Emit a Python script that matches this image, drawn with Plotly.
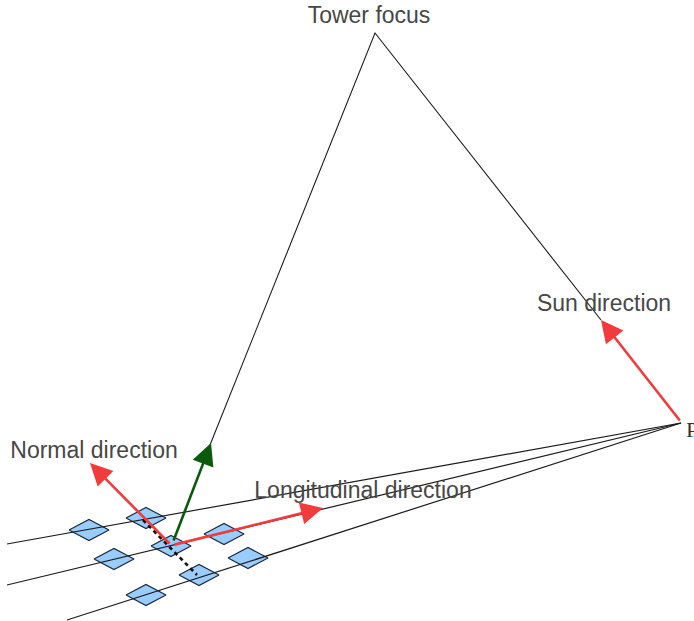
##### Heliostat field geometry sketch #####
import plotly.graph_objs as go

#############################################
########## 1. Data
#############################################
# Everything is read off the picture, in picture pixels
mirror_x = [89, 146, 171, 224, 114, 199, 248, 146]
mirror_y = [530, 518, 546, 534, 559, 575, 558, 595]

sun_point = [681, 423]

row_x = [7, 7, 67]
row_y = [544, 585, 620]

tower_x = [210, 375, 601]
tower_y = [445, 33, 320]

dotted_x = [143, 197]
dotted_y = [520, 575]

arrow_names = ['Normal', 'Receiver', 'Longitudinal', 'Sun']
arrow_start_x = [171, 173, 173, 681]
arrow_start_y = [545, 542, 545, 422]
arrow_end_x = [90, 211, 323, 601]
arrow_end_y = [463, 443, 508, 320]
arrow_colors = ['#f33b3b', '#0b5a0b', '#f33b3b', '#f33b3b']

label_texts = ['Tower focus', 'Sun direction', 'Normal direction', 'Longitudinal direction']
label_x = [369, 604, 94, 363]
label_y = [17, 305, 452, 492]

#############################################
########## 2. Plot
#############################################
data = []

# Mirrors
half_w, half_h = 20, 10.5
for x, y in zip(mirror_x, mirror_y):
	data.append(go.Scatter(
		x=[x-half_w, x, x+half_w, x, x-half_w],
		y=[y, y-half_h, y, y+half_h, y],
		mode='lines', fill='toself', fillcolor='#99ccff',
		line=dict(color='#1a2a3a', width=1.2), hoverinfo='none'
	))

# Rows of mirrors, all starting at the sun point
for x, y in zip(row_x, row_y):
	data.append(go.Scatter(
		x=[x, sun_point[0]], y=[y, sun_point[1]],
		mode='lines', line=dict(color='#1c1c1c', width=1.2), hoverinfo='none'
	))

# Tower lines
data.append(go.Scatter(x=tower_x, y=tower_y, mode='lines', line=dict(color='#1c1c1c', width=1.1), hoverinfo='none'))

# Dotted line through the mirrors
data.append(go.Scatter(x=dotted_x, y=dotted_y, mode='lines', line=dict(color='#111111', width=2.6, dash='4px,3.5px'), hoverinfo='none'))

# Labels
data.append(go.Scatter(
	x=label_x, y=label_y, mode='text', text=label_texts, hoverinfo='none',
	textposition='middle center',
	textfont=dict(family='Liberation Sans', size=23, color='#474747')
))
data.append(go.Scatter(
	x=[686], y=[431], mode='text', text=['P'], hoverinfo='none',
	textposition='middle right', cliponaxis=False,
	textfont=dict(family='Liberation Serif', size=22, color='#333333')
))

# Arrows
annotations = []
for i in range(len(arrow_names)):
	annotations.append(dict(
		x=arrow_end_x[i], y=arrow_end_y[i],
		ax=arrow_start_x[i], ay=arrow_start_y[i],
		xref='x', yref='y', axref='x', ayref='y',
		text='', showarrow=True, arrowhead=2, arrowsize=1.7,
		arrowwidth=2.6, arrowcolor=arrow_colors[i]
	))

layout = go.Layout(
	width=694, height=621, showlegend=False,
	margin=dict(l=0, r=0, t=0, b=0),
	paper_bgcolor='white', plot_bgcolor='white',
	xaxis=dict(range=[0, 694], visible=False, fixedrange=True),
	yaxis=dict(range=[621, 0], visible=False, fixedrange=True),
	annotations=annotations
)

fig = go.Figure(data=data, layout=layout)
# The page's own margin would push the figure off by 8 px
fig.write_html("out.html", config=dict(displayModeBar=False),
	post_script="document.body.style.margin='0';document.body.style.overflow='hidden';")
